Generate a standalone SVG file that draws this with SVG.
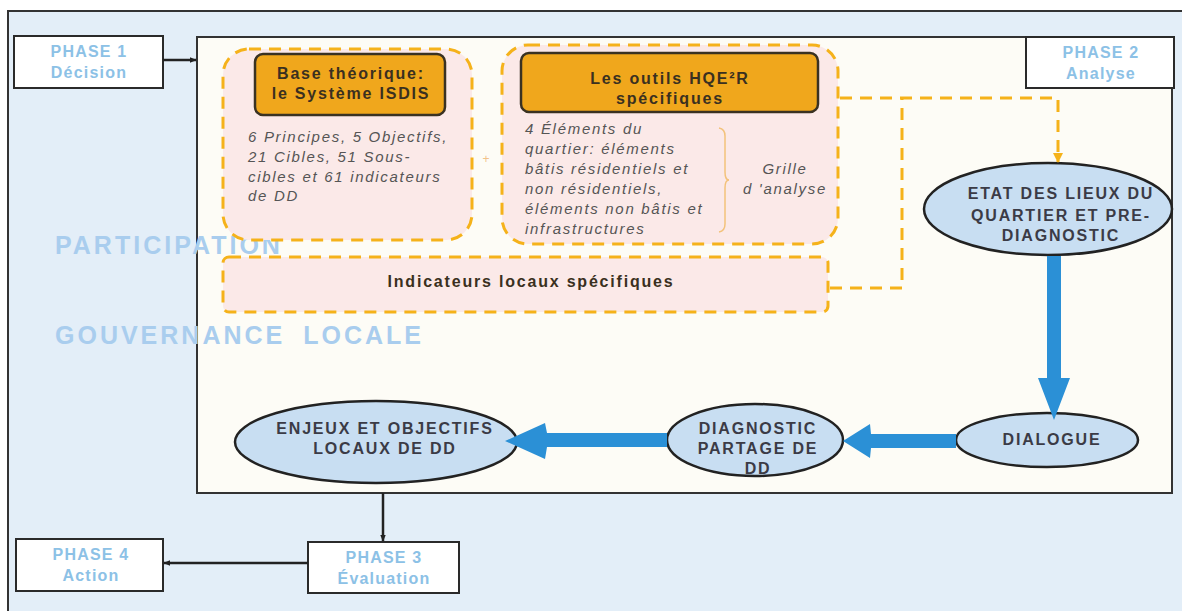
<svg xmlns="http://www.w3.org/2000/svg" width="1182" height="611" viewBox="0 0 1182 611">
  <defs>
    <marker id="blackHead" viewBox="0 0 10 10" refX="9" refY="5" markerWidth="7" markerHeight="7" orient="auto" markerUnits="userSpaceOnUse">
      <path d="M0,1 L10,5 L0,9 Z" fill="#222"/>
    </marker>
    <marker id="orangeHead" viewBox="0 0 10 10" refX="9" refY="5" markerWidth="10" markerHeight="10" orient="auto" markerUnits="userSpaceOnUse">
      <path d="M0,0 L10,5 L0,10 Z" fill="#f5b21a"/>
    </marker>
    <style>
      .phase { fill: #ffffff; stroke: #2a2a2a; stroke-width: 2; }
      .phaseText { font-family: "Liberation Sans", Arial, sans-serif; font-size: 16px; font-weight: bold; letter-spacing: 1.2px; fill: #8cc1e6; text-anchor: middle; }
      .dashBox { fill: #fbe9e8; stroke: #f5b21a; stroke-width: 3; stroke-dasharray: 12 8; }
      .gold { fill: #f0a71c; stroke: #3a3222; stroke-width: 2.5; }
      .goldText { font-family: "Liberation Sans", Arial, sans-serif; font-size: 16px; font-weight: bold; letter-spacing: 1.8px; fill: #3a3020; text-anchor: middle; }
      .itText { font-family: "Liberation Sans", Arial, sans-serif; font-size: 15px; font-style: italic; letter-spacing: 1.7px; fill: #555; }
      .oval { fill: #c8def2; stroke: #222; stroke-width: 2.5; }
      .ovalText { font-family: "Liberation Sans", Arial, sans-serif; font-size: 16px; font-weight: bold; letter-spacing: 1.8px; fill: #3b3b46; text-anchor: middle; }
      .bigText { font-family: "Liberation Sans", Arial, sans-serif; font-size: 25px; font-weight: bold; letter-spacing: 3px; fill: #a9cdee; }
      .thin { stroke: #222; stroke-width: 2.5; fill: none; }
      .dashLink { stroke: #f5b21a; stroke-width: 3; stroke-dasharray: 12 8; fill: none; }
      .blue { fill: #2b90d6; }
    </style>
  </defs>

  <!-- page and outer frame -->
  <rect x="0" y="0" width="1182" height="611" fill="#ffffff"/>
  <rect x="9" y="11" width="1173" height="600" fill="#e3eef8"/>
  <path d="M8,611 L8,11 L1182,11" fill="none" stroke="#333" stroke-width="2"/>

  <!-- central working panel -->
  <rect id="panel" x="197" y="37" width="975" height="456" fill="#fdfcf6" stroke="#333" stroke-width="2"/>

  <!-- background labels -->
  <text class="bigText" x="55" y="254">PARTICIPATION</text>
  <text class="bigText" x="55" y="344" word-spacing="8">GOUVERNANCE LOCALE</text>

  <!-- phase boxes -->
  <g id="phase1">
    <rect class="phase" x="14" y="36" width="149" height="52"/>
    <text class="phaseText" x="89" y="57">PHASE 1</text>
    <text class="phaseText" x="89" y="78">Décision</text>
  </g>
  <g id="phase2">
    <rect class="phase" x="1026" y="37" width="148" height="51"/>
    <text class="phaseText" x="1101" y="58">PHASE 2</text>
    <text class="phaseText" x="1101" y="79">Analyse</text>
  </g>
  <g id="phase3">
    <rect class="phase" x="308" y="542" width="151" height="51"/>
    <text class="phaseText" x="384" y="563">PHASE 3</text>
    <text class="phaseText" x="384" y="584">Évaluation</text>
  </g>
  <g id="phase4">
    <rect class="phase" x="16" y="539" width="147" height="52"/>
    <text class="phaseText" x="91" y="560">PHASE 4</text>
    <text class="phaseText" x="91" y="581">Action</text>
  </g>

  <!-- theoretical base -->
  <g id="isdis">
    <rect class="dashBox" x="223" y="49" width="249" height="191" rx="26"/>
    <rect class="gold" x="255" y="54" width="190" height="61" rx="8"/>
    <text class="goldText" x="351" y="79">Base théorique:</text>
    <text class="goldText" x="351" y="99">le Système ISDIS</text>
    <text class="itText" x="248" y="142">6 Principes, 5 Objectifs,</text>
    <text class="itText" x="248" y="162">21 Cibles, 51 Sous-</text>
    <text class="itText" x="248" y="182">cibles et 61 indicateurs</text>
    <text class="itText" x="248" y="201">de DD</text>
  </g>
  <text x="486" y="163" font-family="Liberation Sans, Arial, sans-serif" font-size="12" fill="#f2c28a" text-anchor="middle">+</text>

  <!-- HQE2R tools -->
  <g id="hqe2r">
    <rect class="dashBox" x="502" y="45" width="336" height="199" rx="26"/>
    <rect class="gold" x="521" y="53" width="297" height="59" rx="8"/>
    <text class="goldText" x="670" y="84">Les outils HQE²R</text>
    <text class="goldText" x="670" y="104">spécifiques</text>
    <text class="itText" x="525" y="134">4 Éléments du</text>
    <text class="itText" x="525" y="154">quartier: éléments</text>
    <text class="itText" x="525" y="174">bâtis résidentiels et</text>
    <text class="itText" x="525" y="194">non résidentiels,</text>
    <text class="itText" x="525" y="214">éléments non bâtis et</text>
    <text class="itText" x="525" y="234">infrastructures</text>
    <path d="M719,128 Q725,129 725,136 L725,172 Q725,180 729,180 Q725,180 725,188 L725,224 Q725,231 719,232" fill="none" stroke="#f3c27a" stroke-width="1.5"/>
    <text class="itText" x="785" y="174" text-anchor="middle" letter-spacing="1">Grille</text>
    <text class="itText" x="785" y="194" text-anchor="middle" letter-spacing="1">d 'analyse</text>
  </g>

  <!-- local indicators -->
  <g id="indicateurs">
    <rect class="dashBox" x="223" y="257" width="605" height="55" rx="6"/>
    <text class="goldText" x="531" y="287">Indicateurs locaux spécifiques</text>
  </g>

  <!-- process ovals -->
  <g id="etat">
    <ellipse class="oval" cx="1048" cy="209" rx="124" ry="46"/>
    <text class="ovalText" x="1061" y="199">ETAT DES LIEUX DU</text>
    <text class="ovalText" x="1061" y="221">QUARTIER ET PRE-</text>
    <text class="ovalText" x="1061" y="241">DIAGNOSTIC</text>
  </g>
  <g id="dialogue">
    <ellipse class="oval" cx="1047" cy="440" rx="91" ry="27"/>
    <text class="ovalText" x="1052" y="445">DIALOGUE</text>
  </g>
  <g id="diagnostic">
    <ellipse class="oval" cx="755" cy="440" rx="88" ry="36"/>
    <text class="ovalText" x="758" y="434">DIAGNOSTIC</text>
    <text class="ovalText" x="758" y="454">PARTAGE DE</text>
    <text class="ovalText" x="758" y="474">DD</text>
  </g>
  <g id="enjeux">
    <ellipse class="oval" cx="376" cy="442" rx="141" ry="41"/>
    <text class="ovalText" x="385" y="434">ENJEUX ET OBJECTIFS</text>
    <text class="ovalText" x="385" y="454">LOCAUX DE DD</text>
  </g>

  <!-- connectors -->
  <g id="connectors">
    <line class="thin" x1="163" y1="60" x2="196" y2="60" marker-end="url(#blackHead)"/>
    <line class="thin" x1="383" y1="493" x2="383" y2="541" marker-end="url(#blackHead)"/>
    <line class="thin" x1="308" y1="563" x2="164" y2="563" marker-end="url(#blackHead)"/>

    <path class="dashLink" d="M840,98 L1058,98 L1058,162" marker-end="url(#orangeHead)"/>
    <path class="dashLink" d="M830,288 L902,288 L902,98"/>

    <!-- thick blue flow arrows -->
    <path class="blue" d="M1047,256 L1061,256 L1061,378 L1070,378 L1054,420 L1038,378 L1047,378 Z"/>
    <path class="blue" d="M956,434 L956,448 L871,448 L870,458 L843,441 L870,424 L871,434 Z"/>
    <path class="blue" d="M667,433 L667,447 L547,447 L545,459 L505,441 L545,423 L547,433 Z"/>
  </g>
</svg>
